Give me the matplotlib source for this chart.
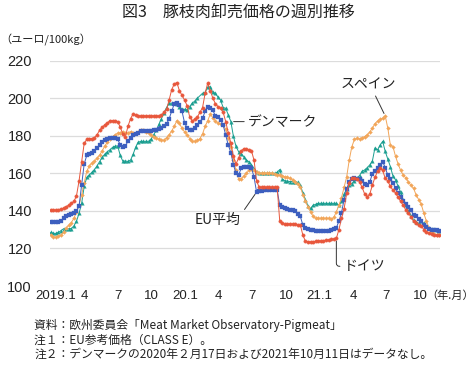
import numpy as np
import pandas as pd
import matplotlib
matplotlib.use("Agg")
import matplotlib.pyplot as plt

# =====================================
# Datos semanales (desde la semana del 2019-01-07)
# =====================================

inicio = pd.Timestamp("2019-01-07")

alemania = [
    140.4, 140.4, 140.4, 140.6, 141, 141.5, 142.3, 143, 144, 145,
    148, 156, 166, 176, 178, 178.4, 178.5, 179, 180.5, 183,
    184.5, 185.8, 186.8, 188, 188, 188, 187.5, 184.6, 181, 179.3,
    185, 189, 191.6, 191, 190.5, 190.5, 190.5, 190.5, 190.5, 190.5,
    190.5, 190.5, 190.5, 191, 192.5, 194, 199, 204.5, 207.5, 208.3,
    204, 201.5, 199, 196, 190, 188, 188.8, 190, 192.5, 195,
    202.6, 208, 204, 200, 197, 195.5, 194.6, 192.5, 187.5, 181.5,
    176, 169, 165, 168, 172, 173, 173, 172.5, 172, 167,
    156, 152.5, 152.5, 152.5, 152.5, 152.5, 152.5, 152.5, 152.5, 134.5,
    133.3, 133, 133, 133, 133, 133, 132.5, 132.5, 127, 123.8,
    123.6, 123.5, 123.6, 123.8, 124, 124, 124.2, 124.4, 124.6, 124.8,
    125, 125.4, 130, 136, 141, 149.4, 155, 157.5, 157.5, 157,
    155.5, 152.5, 149, 147.6, 149, 153.7, 157.8, 161, 162.6, 161.5,
    157.3, 155.8, 153, 151, 149.5, 147.2, 145, 143, 140.4, 139,
    136.5, 134.5, 133.3, 132.4, 132, 130, 128.8, 128, 127.5, 127.1,
    127, 127,
]

eu_promedio = [
    134.3, 134.3, 134.3, 134.3, 134.8, 136, 137.3, 138, 138.5, 139,
    140, 142.5, 154, 165, 169.5, 170.3, 171, 172, 173.2, 174.8,
    176.5, 177.8, 178.3, 178.6, 178.6, 178.6, 178, 175.3, 174, 174.5,
    177, 178.8, 180.3, 181, 181.5, 182.4, 182.6, 182.7, 182.7, 182.7,
    182.8, 183.2, 183.6, 184.3, 185, 186.2, 189, 193, 197, 197.6,
    196.5, 193, 187, 184, 183, 183, 184, 185.5, 187.5, 189.3,
    193, 195.5, 195, 193.5, 190.5, 190, 188.5, 185.7, 180.4, 175,
    171, 164.5, 160, 159, 162.6, 163.5, 163.5, 163.5, 163, 158,
    150, 150.5, 150.8, 151, 151, 151, 151, 151, 151, 143,
    142, 141.5, 141, 140.6, 140.2, 139.8, 138.5, 137, 132.4, 130.8,
    130.3, 130, 129.7, 129.5, 129.3, 129.2, 129.2, 129.3, 129.5, 129.8,
    130.3, 131, 134.5, 139, 146, 151.5, 155.5, 157, 157.4, 157,
    157, 156, 154.5, 153.7, 155.5, 159.6, 161.2, 162.8, 164.6, 166.2,
    163, 159, 157, 155, 152, 149.5, 147.5, 145.5, 143.5, 142,
    140.4, 137.8, 137, 135.8, 134.5, 132.6, 131.2, 130.3, 129.7, 129.6,
    129.6, 129.5,
]

dinamarca = [
    128.5, 128, 128, 128.5, 129.5, 130.5, 130.5, 130.5, 130.6, 132,
    134.5, 138.7, 144, 153, 157.8, 159.2, 160.5, 162, 164, 166.2,
    168.5, 170.2, 171.5, 172.5, 173.8, 174.4, 174.6, 169.5, 166.5, 166.5,
    166.3, 167, 170, 174, 176.5, 177, 177, 177, 177, 178.3,
    180.5, 182.8, 186, 189, 192.3, 195, 197.3, 197.3, 197.2, 197,
    195.5, 194.3, 194, 193.7, 195.5, 197.3, 198.5, 200, np.nan, 202.6,
    203, 206, 206, 203, 202.6, 200.5, 199, 195, 194.6, 191,
    187.5, 179.6, 174.3, 171.5, 170.5, 168.9, 167, 166.2, 164.5, 162.5,
    160.9, 160, 160, 160, 160, 160, 160, 160, 160.5, 162,
    157, 156, 155.8, 155.6, 155.6, 155.6, 155.2, 153.7, 149.5, 146,
    142.5, 141.3, 143, 143.5, 144, 144, 144, 144, 144, 144,
    144, 144, 143, 145, 149, 151.5, 153.7, 154.5, 156, 157.5,
    158.8, 161, 161.8, 163, 164.5, 166.5, 173.5, 172.5, 175, 177,
    171.6, 167.5, 163.5, 158.5, 156.5, 153, 150, 145.7, 143, 140,
    137.5, 135, 134, 133.4, np.nan, 133.6, 131.8, 131, 130.6, 130.2,
    130, 129.5,
]

espana = [
    127.1, 126.2, 126, 126.6, 127, 128.6, 131, 132.3, 133.8, 136,
    139.5, 143, 148.4, 155, 161, 164, 165.5, 166.5, 168, 169.7,
    172, 174.5, 176.5, 178.5, 179.5, 180.5, 181.3, 181.5, 182.2, 181.5,
    181.5, 182.2, 181.5, 181.5, 182.2, 182.8, 183, 182, 181.5, 180.5,
    179.5, 178.8, 178.1, 177.8, 177.5, 179, 180.5, 182.5, 185, 188,
    186.5, 184, 182, 180.5, 178.5, 177, 177, 177.5, 178.5, 181,
    185, 188, 191.5, 189.5, 188, 186.5, 186.2, 185.5, 183.5, 179,
    174, 167, 161.5, 157, 157, 158.5, 160, 161.5, 162.5, 161.5,
    160.5, 160, 160, 160, 160, 160, 160, 159.5, 159.3, 159.1,
    158.7, 158.2, 157.8, 157.3, 156.5, 155.5, 154.5, 152.9, 148.5, 145,
    142, 139.5, 137, 136, 136, 136, 136, 136, 136, 135.5,
    136.5, 139.5, 143, 147, 152.5, 158, 167, 174, 178, 178.6,
    178.3, 179, 179.5, 180.5, 182, 184, 186.4, 187.8, 188.7, 189.3,
    190.5, 184, 175, 174.2, 169, 165, 161.5, 159.1, 157.5, 155.5,
    153.5, 152, 148.5, 146, 143.5, 138.7, 134.5, 131, 128.5, 127.5,
    127.1, 127.1,
]

meses_tick = ["2019-01-01", "2019-04-01", "2019-07-01", "2019-10-01",
              "2020-01-01", "2020-04-01", "2020-07-01", "2020-10-01",
              "2021-01-01", "2021-04-01", "2021-07-01", "2021-10-01"]
etiquetas_tick = ["2019.1", "4", "7", "10", "20.1", "4", "7", "10",
                  "21.1", "4", "7", "10"]

titulo = "図3　豚枝肉卸売価格の週別推移"
unidad = "（ユーロ/100kg）"
notas = [
    "資料：欧州委員会「Meat Market Observatory-Pigmeat」",
    "注１：EU参考価格（CLASS E）。",
    "注２：デンマークの2020年２月17日および2021年10月11日はデータなし。",
]

# =====================================
# Grafico
# =====================================

plt.rcParams["font.family"] = ["Noto Sans CJK JP", "DejaVu Sans"]
fuente_num = ["Liberation Sans Narrow", "Liberation Sans", "DejaVu Sans"]

semanas = np.arange(len(alemania))

fig = plt.figure(figsize=(4.76, 3.67), dpi=100)
ax = fig.add_axes([0.105, 0.2207, 0.82, 0.6143])


def dibujar(valores, color, marcador, ms, zorder):
    y = np.array(valores, dtype=float)
    ok = ~np.isnan(y)
    ax.plot(semanas[ok], y[ok], color=color, lw=0.7, marker=marcador,
            ms=ms, mec=color, mfc=color, mew=0.2, zorder=zorder)


dibujar(dinamarca, "#1a9e90", "^", 2.6, 3)
dibujar(espana, "#f2a65a", "D", 2.0, 4)
dibujar(eu_promedio, "#3d5fbf", "s", 2.2, 5)
dibujar(alemania, "#e8573c", "o", 2.5, 6)

ax.set_ylim(100, 220)
ax.set_xlim(-0.3, 151.4)
ax.set_yticks(range(100, 221, 20))
ax.grid(axis="y", color="#dcdcdc", lw=0.9)
ax.set_axisbelow(True)
for s in ax.spines.values():
    s.set_visible(False)

pos = [(pd.Timestamp(m) - inicio).days / 7 + 1 for m in meses_tick]
pos[0] = 1.8
ax.set_xticks(pos)
ax.set_xticklabels(etiquetas_tick, family=fuente_num, fontsize=9.5)
ax.tick_params(axis="both", length=0, colors="#222222")
ax.tick_params(axis="x", pad=3)
ax.tick_params(axis="y", pad=13)
for t in ax.get_yticklabels():
    t.set_family(["Liberation Sans", "DejaVu Sans"])
    t.set_fontsize(10.5)

fig.text(0.996, 0.21, "（年.月）", ha="right", va="top", fontsize=8,
         color="#222222")

fig.text(0.5, 0.967, titulo, ha="center", va="center", fontsize=11.5,
         color="#222222")
fig.text(0.0, 0.89, unidad, ha="left", va="center", fontsize=8,
         color="#222222")

for i, nota in enumerate(notas):
    fig.text(0.072, 0.114 - i * 0.04, nota, ha="left", va="center",
             fontsize=8.5, color="#222222")

linea = dict(arrowstyle="-", color="#333333", lw=0.7, shrinkA=1, shrinkB=2)

ax.annotate("スペイン", xy=(130, espana[130]), xytext=(123.3, 207),
            ha="center", va="center", fontsize=10, color="#222222",
            arrowprops=dict(linea, relpos=(0.6, 0.0)))
ax.annotate("デンマーク", xy=(70, dinamarca[70]), xytext=(76.8, 187.5),
            ha="left", va="center", fontsize=10, color="#222222",
            arrowprops=dict(linea, relpos=(0.0, 0.5)))
ax.annotate("EU平均", xy=(80, eu_promedio[80]), xytext=(65, 135),
            ha="center", va="center", fontsize=10, color="#222222",
            arrowprops=dict(linea, relpos=(1.0, 0.9)))
ax.annotate("ドイツ", xy=(111, alemania[111]), xytext=(114, 110.5),
            ha="left", va="center", fontsize=10, color="#222222",
            arrowprops=dict(linea, relpos=(0.0, 0.5),
                            connectionstyle="angle,angleA=0,angleB=90,rad=3"))

fig.savefig("out.png", dpi=100)
plt.close(fig)
